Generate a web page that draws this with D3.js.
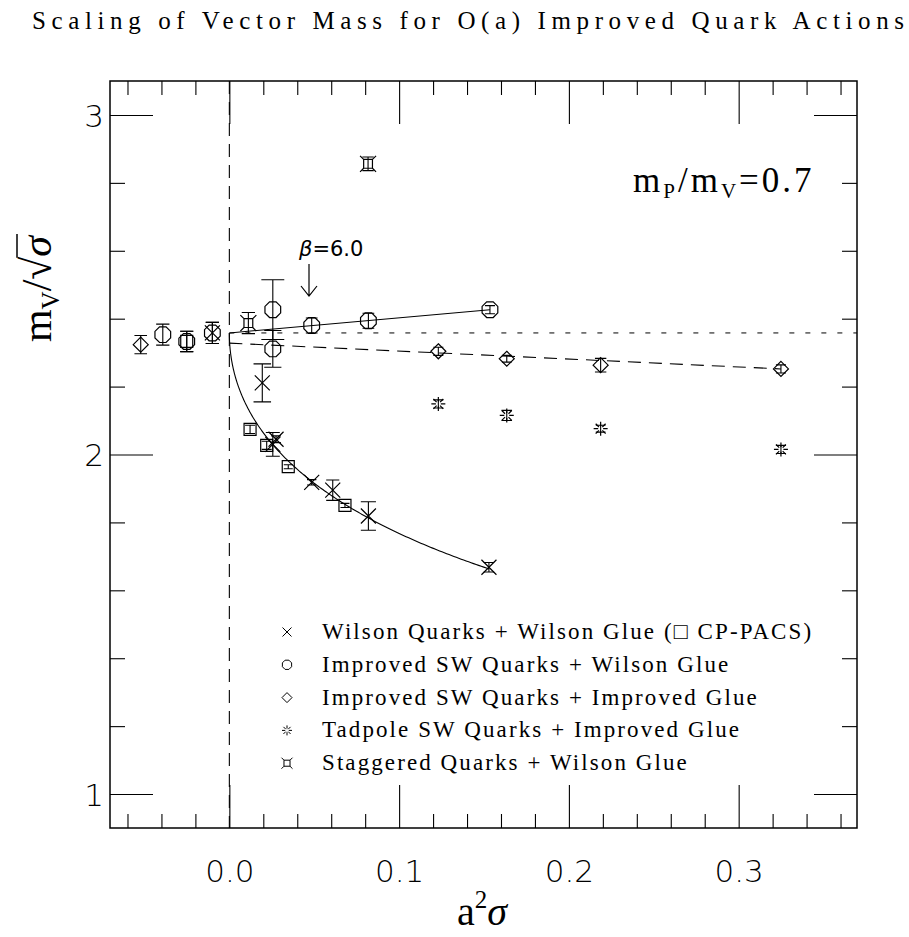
<!DOCTYPE html>
<html><head><meta charset="utf-8">
<script src="https://cdn.jsdelivr.net/npm/d3@7"></script>
<style>body{margin:0;background:#fff}</style>
</head><body>
<svg id="chart" width="909" height="937"></svg>
<script>
// ---------------- DATA ----------------
const title = "Scaling of Vector Mass for O(a) Improved Quark Actions";
const xTickLabels = [0.0, 0.1, 0.2, 0.3];
const yTickLabels = [1, 2, 3];

// Wilson quarks + Wilson glue (crosses)
const wilsonX   = [-0.0100, 0.0194, 0.0256, 0.0275, 0.0485, 0.0609, 0.0819, 0.1529];
const wilsonY   = [2.358, 2.211, 2.030, 2.045, 1.918, 1.895, 1.819, 1.668];
const wilsonErr = [0.031, 0.056, 0.035, 0.010, 0.008, 0.030, 0.042, 0.014];
// CP-PACS (squares)
const cppacsX   = [-0.0251, 0.0122, 0.0220, 0.0347, 0.0681];
const cppacsY   = [2.333, 2.074, 2.027, 1.964, 1.850];
const cppacsErr = [0.030, 0.012, 0.012, 0.006, 0.006];
// Improved SW quarks + Wilson glue (circles)
const swWilsonX   = [-0.0392, -0.0251, -0.0100, 0.0256, 0.0256, 0.0485, 0.0819, 0.1535];
const swWilsonY   = [2.353, 2.333, 2.358, 2.4265, 2.311, 2.380, 2.394, 2.4265];
const swWilsonErr = [0.031, 0.030, 0.031, 0.088, 0.054, 0.022, 0.022, 0.012];
// Improved SW quarks + improved glue (diamonds)
const swImpX   = [-0.0522, 0.1231, 0.1634, 0.2187, 0.3249];
const swImpY   = [2.3235, 2.304, 2.282, 2.263, 2.252];
const swImpErr = [0.027, 0.012, 0.010, 0.020, 0.012];
// Tadpole SW quarks + improved glue (bursts)
const tadX   = [0.1231, 0.1634, 0.2187, 0.3249];
const tadY   = [2.149, 2.115, 2.076, 2.015];
const tadErr = [0.012, 0.015, 0.010, 0.012];
// Staggered quarks + Wilson glue
const stagX   = [0.0112, 0.0817];
const stagY   = [2.387, 2.856];
const stagErr = [0.031, 0.020];

// Fits
const swWilsonFit = {a: 2.358, b: 0.446, xMax: 0.1535};             // y = a + b x
const swImpFit    = {a: 2.328, b: -0.234, xMax: 0.3249};            // y = a + b x
const wilsonFit   = {c: 2.358, k: 2.25, m: 1.21, xMax: 0.1529};     // y = c - k sqrt(x) + m x
const continuumValue = 2.358;

const legendLabels = [
  "Wilson Quarks + Wilson Glue (\u25A1 CP-PACS)",
  "Improved SW Quarks + Wilson Glue",
  "Improved SW Quarks + Improved Glue",
  "Tadpole SW Quarks + Improved Glue",
  "Staggered Quarks + Wilson Glue"
];
const legendSymbols = ["cross", "circle", "diamond", "tadpole", "stag"];

// ---------------- DRAWING ----------------
const svg = d3.select("#chart");
const L = 110, R = 857, T = 81, B = 828;
const x = d3.scaleLinear().domain([-0.0703, 0.3697]).range([L, R]);
const y = d3.scaleLinear().domain([0.9, 3.1]).range([B, T]);
const SERIF = "Liberation Serif, Times New Roman, serif";

svg.append("rect").attr("width", 909).attr("height", 937).attr("fill", "#fff");

// title
svg.append("text").attr("x", 32).attr("y", 29)
  .attr("textLength", 872).attr("lengthAdjust", "spacing")
  .style("font-family", SERIF).style("font-size", "25px")
  .text(title);

// axes ticks (inward)
const minorX = d3.range(-3, 19).map(i => +(i * 0.02).toFixed(2)).filter(v => Math.abs(v * 10 - Math.round(v * 10)) > 1e-6);
const majorX = xTickLabels;
const minorY = d3.range(5, 16).map(i => +(i * 0.2).toFixed(1)).filter(v => Math.abs(v - Math.round(v)) > 1e-6);
const majorY = yTickLabels;

function tickAxis(axis, tr) {
  const g = svg.append("g").attr("transform", tr).call(axis);
  g.select(".domain").remove();
  g.selectAll("line").attr("stroke", "#000").attr("stroke-width", 1.1);
  g.selectAll("text").remove();
}
tickAxis(d3.axisBottom(x).tickValues(minorX).tickSize(-14).tickFormat(""), `translate(0,${B})`);
tickAxis(d3.axisBottom(x).tickValues(majorX).tickSize(-43).tickFormat(""), `translate(0,${B})`);
tickAxis(d3.axisTop(x).tickValues(minorX).tickSize(-14).tickFormat(""), `translate(0,${T})`);
tickAxis(d3.axisTop(x).tickValues(majorX).tickSize(-43).tickFormat(""), `translate(0,${T})`);
tickAxis(d3.axisLeft(y).tickValues(minorY).tickSize(-15).tickFormat(""), `translate(${L},0)`);
tickAxis(d3.axisLeft(y).tickValues(majorY).tickSize(-43).tickFormat(""), `translate(${L},0)`);
tickAxis(d3.axisRight(y).tickValues(minorY).tickSize(-15).tickFormat(""), `translate(${R},0)`);
tickAxis(d3.axisRight(y).tickValues(majorY).tickSize(-43).tickFormat(""), `translate(${R},0)`);

// tick labels
const xl = svg.append("g").attr("transform", `translate(0,${B})`)
  .call(d3.axisBottom(x).tickValues(xTickLabels).tickSize(0).tickPadding(0).tickFormat(d3.format(".1f")));
xl.select(".domain").remove();
xl.selectAll("text").attr("y", 54).attr("dy", null).attr("fill", "#000")
  .style("font-family", "DejaVu Sans, sans-serif").style("font-size", "31px").style("font-weight", 300);
const yl = svg.append("g").attr("transform", `translate(${L},0)`)
  .call(d3.axisLeft(y).tickValues(yTickLabels).tickSize(0).tickPadding(0).tickFormat(d3.format("d")));
yl.select(".domain").remove();
yl.selectAll("text").attr("x", -6).attr("dy", "0.36em").attr("fill", "#000")
  .style("font-family", "DejaVu Sans, sans-serif").style("font-size", "31px").style("font-weight", 300);

// frame
svg.append("rect").attr("x", L).attr("y", T).attr("width", R - L).attr("height", B - T)
  .attr("fill", "none").attr("stroke", "#000").attr("stroke-width", 1.5);

const plot = svg.append("g");
// vertical dashed at x=0
plot.append("line").attr("x1", x(0)).attr("x2", x(0)).attr("y1", T).attr("y2", B)
  .attr("stroke", "#000").attr("stroke-width", 1.1).attr("stroke-dasharray", "13,8");
// dotted continuum line
plot.append("line").attr("x1", x(0)).attr("x2", R).attr("y1", y(continuumValue)).attr("y2", y(continuumValue))
  .attr("stroke", "#000").attr("stroke-width", 1).attr("stroke-dasharray", "5,11");

const line = d3.line().x(d => x(d[0])).y(d => y(d[1]));
// fit lines
plot.append("path").attr("d", line([[0, swWilsonFit.a], [swWilsonFit.xMax, swWilsonFit.a + swWilsonFit.b * swWilsonFit.xMax]]))
  .attr("fill", "none").attr("stroke", "#000").attr("stroke-width", 1.1);
plot.append("path").attr("d", line([[0, swImpFit.a], [swImpFit.xMax, swImpFit.a + swImpFit.b * swImpFit.xMax]]))
  .attr("fill", "none").attr("stroke", "#000").attr("stroke-width", 1.1).attr("stroke-dasharray", "13,8");
const wf = d3.range(0, 201).map(i => {
  const s = Math.sqrt(wilsonFit.xMax) * i / 200, xv = s * s;
  return [xv, wilsonFit.c - wilsonFit.k * s + wilsonFit.m * xv];
});
plot.append("path").attr("d", line(wf)).attr("fill", "none").attr("stroke", "#000").attr("stroke-width", 1.1);

// symbol paths
function symPath(type, s) {
  switch (type) {
    case "cross": return `M${-s},${-s}L${s},${s}M${-s},${s}L${s},${-s}`;
    case "circle": {
      let p = "";
      for (let i = 0; i < 8; i++) {
        const a = Math.PI / 8 + i * Math.PI / 4;
        p += (i ? "L" : "M") + (s * Math.cos(a)).toFixed(2) + "," + (s * Math.sin(a)).toFixed(2);
      }
      return p + "Z";
    }
    case "diamond": return `M0,${-s}L${s},0L0,${s}L${-s},0Z`;
    case "square": return `M${-s},${-s}H${s}V${s}H${-s}Z`;
    case "tadpole": {
      let p = "";
      for (let i = 0; i < 8; i++) {
        const a = i * Math.PI / 4, r0 = s * 0.35;
        p += `M${(r0 * Math.cos(a)).toFixed(2)},${(r0 * Math.sin(a)).toFixed(2)}L${(s * Math.cos(a)).toFixed(2)},${(s * Math.sin(a)).toFixed(2)}`;
      }
      return p;
    }
    case "stag": {
      const h = s * 0.55;
      return `M${-h},${-h}H${h}V${h}H${-h}Z` +
        `M${-h},${-h}L${-s},${-s}M${h},${-h}L${s},${-s}M${h},${h}L${s},${s}M${-h},${h}L${-s},${s}`;
    }
  }
}

function drawSeries(xs, ys, es, type, size) {
  const g = plot.append("g");
  xs.forEach((xv, i) => {
    const cx = x(xv), cy = y(ys[i]);
    const y1 = y(ys[i] + es[i]), y2 = y(ys[i] - es[i]);
    const cw = Math.min(11.5, 4 + (y2 - y1) / 2 * 0.25);
    g.append("path")
      .attr("d", `M${cx},${y1}V${y2}M${cx - cw},${y1}H${cx + cw}M${cx - cw},${y2}H${cx + cw}`)
      .attr("stroke", "#000").attr("stroke-width", 1.1).attr("fill", "none");
    g.append("path").attr("transform", `translate(${cx},${cy})`).attr("d", symPath(type, size))
      .attr("stroke", "#000").attr("stroke-width", 1.2).attr("fill", "none");
  });
}
drawSeries(swWilsonX, swWilsonY, swWilsonErr, "circle", 8.5);
drawSeries(cppacsX, cppacsY, cppacsErr, "square", 6);
drawSeries(wilsonX, wilsonY, wilsonErr, "cross", 7.5);
drawSeries(swImpX, swImpY, swImpErr, "diamond", 7.5);
drawSeries(tadX, tadY, tadErr, "tadpole", 7);
drawSeries(stagX, stagY, stagErr, "stag", 8);

// legend
const leg = svg.append("g");
const legTexts = [];
legendLabels.forEach((lab, i) => {
  const ly = 632 + i * 32.8;
  const sz = {cross: 4.5, circle: 5, diamond: 5, tadpole: 5, stag: 5.5}[legendSymbols[i]];
  leg.append("path").attr("transform", `translate(287,${ly})`).attr("d", symPath(legendSymbols[i], sz))
    .attr("stroke", "#000").attr("stroke-width", 1).attr("fill", "none");
  legTexts.push(leg.append("text").attr("x", 322).attr("y", ly + 7)
    .style("font-family", SERIF).style("font-size", "23px")
    .text(lab));
});
// widen letter spacing so that the first line spans the same width as the reference
const w0 = legTexts[0].node().getComputedTextLength();
const ls = Math.max(0, (491 - w0) / legendLabels[0].length);
legTexts.forEach(t => t.style("letter-spacing", ls.toFixed(2) + "px"));

// m_P/m_V annotation
const ann = svg.append("text").attr("x", 633).attr("y", 192)
  .style("font-family", SERIF).style("font-size", "35px").style("letter-spacing", "3px");
ann.append("tspan").text("m");
ann.append("tspan").attr("dy", 6).style("font-size", "21px").text("P");
ann.append("tspan").attr("dy", -6).text("/m");
ann.append("tspan").attr("dy", 6).style("font-size", "21px").text("V");
ann.append("tspan").attr("dy", -6).text("=0.7");

// beta annotation
const bt = svg.append("text").attr("x", 299).attr("y", 256)
  .style("font-family", "DejaVu Sans, sans-serif").style("font-size", "21px");
bt.append("tspan").style("font-style", "italic").text("\u03B2");
bt.append("tspan").text("=6.0");
svg.append("path").attr("d", "M309,264V296M301,286L309,296L317,286")
  .attr("stroke", "#000").attr("stroke-width", 1.2).attr("fill", "none");

// x label
const xlab = svg.append("text").attr("x", 457).attr("y", 925)
  .style("font-family", SERIF).style("font-size", "40px");
xlab.append("tspan").text("a");
xlab.append("tspan").attr("dy", -17).style("font-size", "25px").text("2");
xlab.append("tspan").attr("dy", 17).style("font-style", "italic").text("\u03C3");

// y label
const yg = svg.append("g").attr("transform", "translate(51,289) rotate(-90)");
const ylab = yg.append("text").attr("text-anchor", "middle")
  .style("font-family", SERIF).style("font-size", "42px");
ylab.append("tspan").text("m");
ylab.append("tspan").attr("dy", 8).style("font-size", "25px").text("V");
ylab.append("tspan").attr("dy", -8).text("/\u221A");
ylab.append("tspan").style("font-style", "italic").text("\u03C3");
const n = ylab.node();
const nch = n.getNumberOfChars();
const rad = n.getExtentOfChar(nch - 2), sig = n.getExtentOfChar(nch - 1);
yg.append("line").attr("x1", rad.x + rad.width - 1).attr("x2", sig.x + sig.width + 2)
  .attr("y1", rad.y + 3).attr("y2", rad.y + 3).attr("stroke", "#000").attr("stroke-width", 1.5);
</script>
</body></html>
